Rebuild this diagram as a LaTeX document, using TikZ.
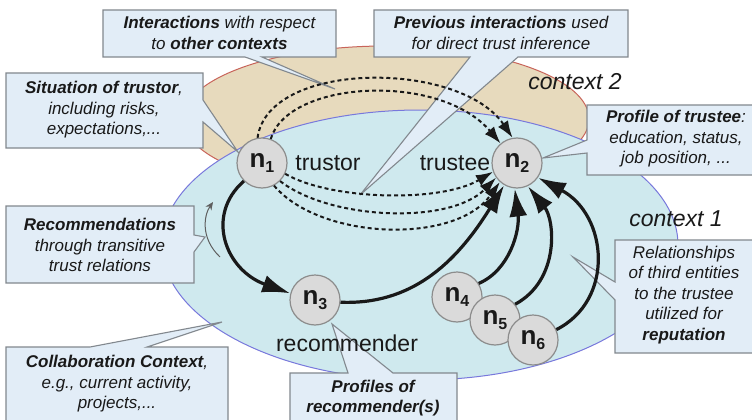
\documentclass[tikz,border=0pt]{standalone}
\usepackage{fontspec}
\setmainfont{Liberation Sans}
\usetikzlibrary{arrows.meta}
\definecolor{tanfill}{RGB}{231,218,189}
\definecolor{tanline}{RGB}{200,100,90}
\definecolor{ctxfill}{RGB}{207,233,238}
\definecolor{ctxline}{RGB}{120,120,220}
\definecolor{callfill}{RGB}{226,237,247}
\definecolor{callline}{RGB}{130,136,142}
\definecolor{nodefill}{RGB}{218,218,218}
\definecolor{nodeline}{RGB}{140,140,140}
\definecolor{ink}{RGB}{25,25,25}
\newcommand\agentlbl[1]{{\fontsize{26}{26}\selectfont\bfseries n\raisebox{-5pt}{\fontsize{16}{16}\selectfont #1}}}
\begin{document}
\begin{tikzpicture}[x=1pt,y=-1pt,
  callout/.style={fill=callfill,draw=callline,line width=1.1pt,line join=miter},
  calltext/.style={align=center,font=\fontsize{17}{20.5}\selectfont\itshape,text=ink,inner sep=0pt},
  agent/.style={circle,fill=nodefill,draw=nodeline,line width=1.2pt,minimum size=50pt,inner sep=0pt,text=ink},
  role/.style={font=\fontsize{23}{23}\selectfont,text=ink,inner sep=0pt},
  ctxlabel/.style={font=\fontsize{23}{23}\selectfont\itshape,text=ink,inner sep=0pt},
  strong/.style={-{Latex[length=28pt,width=18pt]},line width=3.2pt,draw=ink},
  prev/.style={-{Latex[length=17pt,width=12pt]},line width=2pt,dash pattern=on 4pt off 3pt,draw=ink},
  thinarrow/.style={-{Stealth[length=8pt,width=7pt]},line width=1pt,draw=ink!70},
]
\useasboundingbox (0,0) rectangle (752,420);
\fill[white] (0,0) rectangle (752,420);

% contexts
\draw[fill=tanfill,draw=tanline,line width=1pt] (386,119) ellipse [x radius=203pt, y radius=73pt];
\draw[fill=ctxfill,draw=ctxline,line width=1pt] (420,245) ellipse [x radius=258pt, y radius=135pt];

% callouts
\draw[callout] (103,10) -- (336,10) -- (336,57) -- (262,57) -- (335,89) -- (245,57) -- (103,57) -- cycle;
\draw[callout] (6,73) -- (203,73) -- (203,100) -- (238,152) -- (203,122) -- (203,148) -- (6,148) -- cycle;
\draw[callout] (374,10) -- (628,10) -- (628,57) -- (518,57) -- (360,195) -- (470,57) -- (374,57) -- cycle;
\draw[callout] (587,105) -- (760,105) -- (760,175) -- (587,175) -- (587,153) -- (543,158) -- (587,140) -- cycle;
\draw[callout] (6,206) -- (194,206) -- (194,235) -- (205,237) -- (194,252) -- (194,283) -- (6,283) -- cycle;
\draw[callout] (6,347) -- (90,347) -- (222,322) -- (147,347) -- (228,347) -- (228,430) -- (6,430) -- cycle;
\draw[callout] (290,373) -- (348,373) -- (332,324) -- (393,373) -- (457,373) -- (457,430) -- (290,430) -- cycle;
\draw[callout] (615,240) -- (760,240) -- (760,353) -- (615,353) -- (615,300) -- (573,257) -- (615,282) -- cycle;

\node[calltext] (tInter) at (219.5,33) {\textbf{Interactions} with respect\\to \textbf{other contexts}};
\node[calltext] (tSit) at (104,110) {\textbf{Situation of trustor},\\including risks,\\expectations,...};
\node[calltext] (tPrev) at (501,33) {\textbf{Previous interactions} used\\for direct trust inference};
\node[calltext] (tProf) at (676,139) {\textbf{Profile of trustee}:\\education, status,\\job position, ...};
\node[calltext] (tRec) at (100,245) {\textbf{Recommendations}\\through transitive\\trust relations};
\node[calltext] (tColl) at (117,384) {\textbf{Collaboration Context},\\e.g., current activity,\\projects,...};
\node[calltext] (tRecm) at (373,398) {\textbf{Profiles of}\\\textbf{recommender(s)}};
\node[calltext] (tRel) at (684,295) {Relationships\\of third entities\\to the trustee\\utilized for\\\textbf{reputation}};

% labels
\node[ctxlabel] (c2) at (575,82) {context 2};
\node[ctxlabel] (c1) at (676,219) {context 1};
\node[role] (lTrustor) at (328,163) {trustor};
\node[role] (lTrustee) at (455,163) {trustee};
\node[role] (lRecm) at (347,343) {recommender};

% agents
\node[agent] (n1) at (262,163) {\agentlbl{1}};
\node[agent] (n2) at (517,163) {\agentlbl{2}};
\node[agent] (n3) at (315,300) {\agentlbl{3}};
\node[agent] (n4) at (457,297) {\agentlbl{4}};
\node[agent] (n5) at (495,320) {\agentlbl{5}};
\node[agent] (n6) at (533,340) {\agentlbl{6}};

% thin transitive arrow
\coordinate (ra) at (220,257);
\coordinate (rb) at (213,202);
\draw[thinarrow] (ra) .. controls (200,238) and (204,215) .. (rb);

% dashed previous interactions
\draw[prev] (n1.100) .. controls (268,60) and (460,60) .. (n2.100);
\draw[prev] (n1.70) .. controls (288,80) and (440,72) .. (n2.130);
\draw[prev] (n1.335) .. controls (330,200) and (440,203) .. (n2.200);
\draw[prev] (n1.315) .. controls (330,220) and (450,225) .. (n2.215);
\draw[prev] (n1.298) .. controls (320,240) and (455,245) .. (n2.228);

% solid trust arrows
\draw[strong] (n1.225) .. controls (205,215) and (225,270) .. (n3.165);
\draw[strong] (n3.355) .. controls (410,305) and (455,265) .. (n2.240);
\draw[strong] (n4.32) .. controls (510,270) and (520,230) .. (n2.265);
\draw[strong] (n5.38) .. controls (560,280) and (555,220) .. (n2.295);
\draw[strong] (n6.24) .. controls (615,300) and (608,215) .. (n2.325);
\end{tikzpicture}
\end{document}
